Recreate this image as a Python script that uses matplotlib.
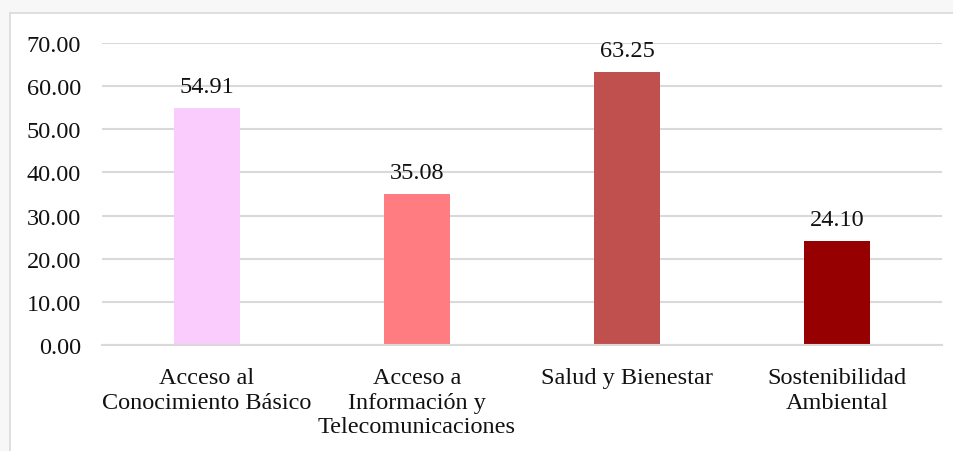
import matplotlib.pyplot as plt
from matplotlib.patches import Rectangle

categorias = ["Acceso al\nConocimiento Básico",
              "Acceso a\nInformación y\nTelecomunicaciones",
              "Salud y Bienestar",
              "Sostenibilidad\nAmbiental"]
valores = [54.91, 35.08, 63.25, 24.10]
colores = ["#FACCFE", "#FF7C80", "#C0504D", "#960000"]
yticks = [0, 10, 20, 30, 40, 50, 60, 70]

plt.rcParams['font.family'] = ['Liberation Serif', 'DejaVu Serif']

fig = plt.figure(figsize=(9.54, 4.52), dpi=100)
fig.patch.set_facecolor("#F7F7F7")

# marco del grafico
W, H = 954.0, 452.0
marco = Rectangle((10 / W, -0.1), 1.0, 1.1 - 14 / H, transform=fig.transFigure,
                  facecolor="white", edgecolor="#D9D9D9", linewidth=1.2, zorder=-10)
fig.patches.append(marco)

ax = fig.add_axes([102 / W, 1 - 346 / H, 840 / W, 302 / H])
ax.set_zorder(5)
ax.set_facecolor("none")

x = range(len(categorias))
barras = ax.bar(x, valores, width=0.315, color=colores, zorder=2)

for b, v in zip(barras, valores):
    ax.annotate("%.2f" % v, (b.get_x() + b.get_width() / 2, v),
                xytext=(0, 8), textcoords="offset points",
                ha="center", va="bottom", fontsize=17.5, color="#111111")

ax.set_xlim(-0.5, len(categorias) - 0.5)
ax.set_ylim(0, 70)
ax.set_yticks(yticks)
ax.set_yticklabels(["%.2f" % t for t in yticks])
ax.set_xticks(list(x))
ax.set_xticklabels(categorias, linespacing=1.22)
ax.tick_params(axis="y", length=0, pad=15, labelsize=17.5, labelcolor="#111111")
ax.tick_params(axis="x", length=0, pad=16, labelsize=17.5, labelcolor="#111111")

ax.grid(axis="y", color="#D9D9D9", linewidth=1.5, zorder=0)
ax.set_axisbelow(True)
for s in ["top", "right", "left"]:
    ax.spines[s].set_visible(False)
ax.spines["bottom"].set_color("#D9D9D9")
ax.spines["bottom"].set_linewidth(1.5)

fig.savefig("out.png", dpi=100, facecolor=fig.get_facecolor())
